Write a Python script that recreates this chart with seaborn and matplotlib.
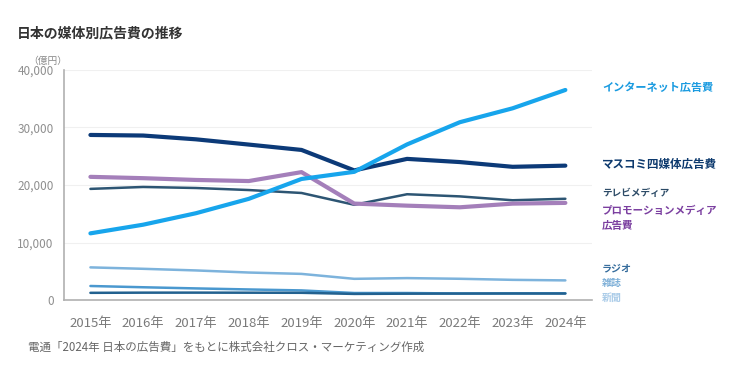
import numpy as np
import pandas as pd
import matplotlib
matplotlib.use("Agg")
import matplotlib.pyplot as plt
import seaborn as sns

# --- data (億円) ---
years = ["2015年", "2016年", "2017年", "2018年", "2019年",
         "2020年", "2021年", "2022年", "2023年", "2024年"]
internet = [11594, 13100, 15094, 17589, 21048, 22290, 27052, 30912, 33330, 36517]
mass4 = [28699, 28596, 27938, 27026, 26094, 22536, 24538, 23985, 23161, 23363]
tv = [19323, 19657, 19478, 19123, 18612, 16559, 18393, 18019, 17347, 17605]
promo = [21417, 21184, 20875, 20685, 22239, 16768, 16408, 16124, 16759, 16889]
newspaper = [5679, 5431, 5147, 4784, 4547, 3688, 3815, 3697, 3512, 3417]
magazine = [2443, 2223, 2023, 1841, 1675, 1223, 1224, 1140, 1163, 1179]
radio = [1254, 1285, 1290, 1278, 1260, 1066, 1106, 1129, 1139, 1132]

sns.set_style("white")
plt.rcParams["font.family"] = ["Noto Sans CJK JP", "DejaVu Sans"]

fig = plt.figure(figsize=(7.36, 3.76), dpi=100)
ax = fig.add_axes([0.087, 0.202, 0.717, 0.612])

x = np.arange(len(years))
series = [
    (newspaper, "#7db3dc", 1.8),
    (magazine, "#4a98cf", 1.8),
    (radio, "#22618f", 1.8),
    (tv, "#2d5573", 1.8),
    (promo, "#a47fba", 3.0),
    (mass4, "#0c3a78", 3.0),
    (internet, "#17a5ec", 3.0),
]
for vals, col, lw in series:
    sns.lineplot(x=x, y=vals, ax=ax, color=col, linewidth=lw)

ax.set_xlim(-0.5, 9.5)
ax.set_ylim(0, 40000)
ax.set_yticks([0, 10000, 20000, 30000, 40000])
ax.set_yticklabels(["0", "10,000", "20,000", "30,000", "40,000"])
ax.yaxis.grid(True, color="#f0f0f0", linewidth=0.8)
ax.set_axisbelow(True)

ax.set_xticks(np.arange(-0.5, 10, 1))
ax.set_xticklabels([])
ax.set_xticks(x, minor=True)
ax.set_xticklabels(years, minor=True)
ax.tick_params(axis="x", which="major", length=4, color="#aaaaaa", width=1)
ax.tick_params(axis="x", which="minor", length=0, pad=12, labelsize=9.5, labelcolor="#7a7a7a")
ax.tick_params(axis="y", length=4, color="#aaaaaa", labelsize=8.5, labelcolor="#8f8f8f")

for s in ["top", "right"]:
    ax.spines[s].set_visible(False)
for s in ["left", "bottom"]:
    ax.spines[s].set_color("#b0b0b0")
    ax.spines[s].set_linewidth(1.2)

# --- texts ---
fig.text(0.023, 0.912, "日本の媒体別広告費の推移", fontsize=10, fontweight="bold", color="#333333", va="center")
fig.text(0.038, 0.837, "（億円）", fontsize=7, color="#888888", va="center")
fig.text(0.038, 0.077, "電通「2024年 日本の広告費」をもとに株式会社クロス・マーケティング作成",
         fontsize=8.3, color="#666666", va="center")

labels = [
    (0.768, "インターネット広告費", "#1a9be0", 8),
    (0.564, "マスコミ四媒体広告費", "#0d3a6e", 8.3),
    (0.487, "テレビメディア", "#2b4a66", 6.9),
    (0.439, "プロモーションメディア", "#7b3fa0", 7.6),
    (0.399, "広告費", "#7b3fa0", 7.6),
    (0.287, "ラジオ", "#356c9c", 7.2),
    (0.247, "雑誌", "#7fb0d8", 7.2),
    (0.207, "新聞", "#a9cbe8", 7.2),
]
for yy, txt, col, fs in labels:
    fig.text(0.818, yy, txt, fontsize=fs, fontweight="bold", color=col, va="center")

fig.savefig("out.png", dpi=100)
